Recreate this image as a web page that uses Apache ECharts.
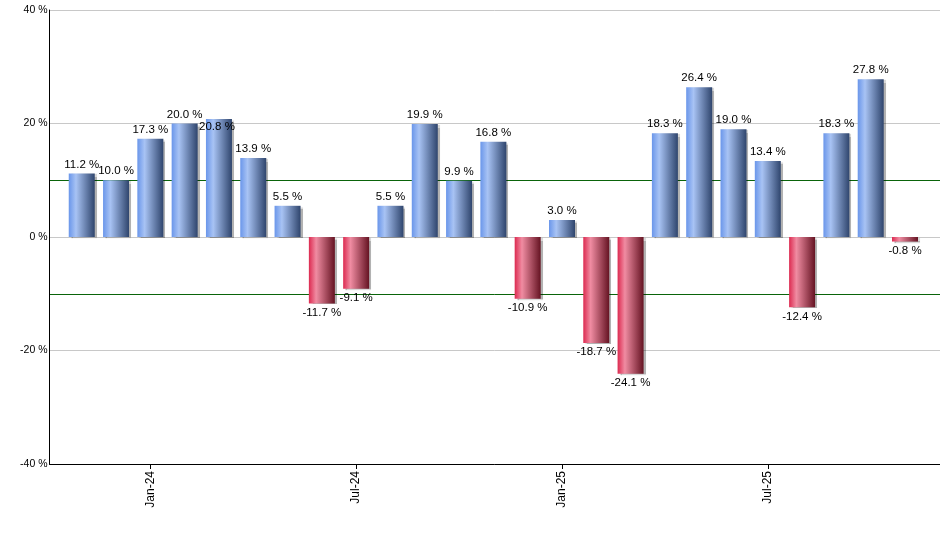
<!DOCTYPE html>
<html>
<head>
<meta charset="utf-8">
<title>Monthly returns</title>
<script src="https://cdn.jsdelivr.net/npm/echarts@6/dist/echarts.min.js"></script>
<style>
  html, body { margin: 0; padding: 0; background: #fff; }
  #chart { width: 940px; height: 550px; }
</style>
</head>
<body>
<div id="chart"></div>
<script>
// months (one bar each)
var months = ['Nov-23', 'Dec-23', 'Jan-24', 'Feb-24', 'Mar-24', 'Apr-24', 'May-24', 'Jun-24',
  'Jul-24', 'Aug-24', 'Sep-24', 'Oct-24', 'Nov-24', 'Dec-24', 'Jan-25', 'Feb-25', 'Mar-25',
  'Apr-25', 'May-25', 'Jun-25', 'Jul-25', 'Aug-25', 'Sep-25', 'Oct-25', 'Nov-25'];
// monthly change in %
var values = [11.2, 10.0, 17.3, 20.0, 20.8, 13.9, 5.5, -11.7, -9.1, 5.5, 19.9, 9.9, 16.8,
  -10.9, 3.0, -18.7, -24.1, 18.3, 26.4, 19.0, 13.4, -12.4, 18.3, 27.8, -0.8];
// months that get a tick label on the x axis
var tickMonths = ['Jan-24', 'Jul-24', 'Jan-25', 'Jul-25'];
// y axis: labelled ticks and the two reference lines
var yTicks = [-40, -20, 0, 20, 40];
var bandLines = [10, -10];

var chart = echarts.init(document.getElementById('chart'));

var font = 'Liberation Sans, Arial, sans-serif';

// 蓝色 / 红色 横向渐变
var blueFill = new echarts.graphic.LinearGradient(0, 0, 1, 0, [
  { offset: 0, color: '#6a96ea' },
  { offset: 0.28, color: '#a8c3f4' },
  { offset: 1, color: '#2f456d' }
]);
var redFill = new echarts.graphic.LinearGradient(0, 0, 1, 0, [
  { offset: 0, color: '#dc2a50' },
  { offset: 0.28, color: '#f08ca2' },
  { offset: 1, color: '#651322' }
]);

var tickIdx = tickMonths.map(function (m) { return months.indexOf(m); });

// split lines every 10 %: gray on labelled ticks, green on the band lines, none otherwise
var yMin = yTicks[0], yMax = yTicks[yTicks.length - 1];
var splitColors = [];
for (var y = yMin; y <= yMax; y += 10) {
  if (bandLines.indexOf(y) >= 0) splitColors.push('#0a640a');
  else if (yTicks.indexOf(y) >= 0) splitColors.push('#c8c8c8');
  else splitColors.push('rgba(0,0,0,0)');
}

var barData = values.map(function (v, i) {
  var item = {
    value: [i, v],
    itemStyle: { color: v >= 0 ? blueFill : redFill },
    label: { position: v >= 0 ? 'top' : 'bottom' }
  };
  // 20.8 % label sits lower in the original (collision with its neighbour)
  if (i === 4) item.label.offset = [-2, 17];
  return item;
});

var option = {
  animation: false,
  backgroundColor: '#fff',
  grid: {
    left: 49.5, right: 0, top: 10, bottom: 86,
    containLabel: false,
    outerBoundsMode: 'none'
  },
  xAxis: {
    type: 'value',
    min: -0.94,
    max: 25.02,
    splitLine: { show: false },
    axisLine: { show: true, onZero: false, lineStyle: { color: '#000', width: 1 } },
    axisTick: { show: true, customValues: tickIdx, length: 5, lineStyle: { color: '#000' } },
    axisLabel: {
      customValues: tickIdx,
      rotate: 90,
      margin: 7,
      color: '#000',
      fontFamily: font,
      fontSize: 12,
      formatter: function (v) { return months[Math.round(v)]; }
    }
  },
  yAxis: {
    type: 'value',
    min: yMin,
    max: yMax,
    interval: 10,
    axisLine: { show: true, onZero: false, lineStyle: { color: '#000', width: 1 } },
    axisTick: { show: false },
    splitLine: { show: true, lineStyle: { color: splitColors, width: 1 } },
    axisLabel: {
      margin: 2,
      color: '#000',
      fontFamily: font,
      fontSize: 10.5,
      formatter: function (v) { return yTicks.indexOf(v) >= 0 ? v + ' %' : ''; }
    }
  },
  series: [
    {
      type: 'bar',
      barWidth: 26,
      data: barData,
      itemStyle: {
        shadowColor: 'rgba(0,0,0,0.3)',
        shadowOffsetX: 2,
        shadowOffsetY: 1,
        shadowBlur: 1
      },
      label: {
        show: true,
        distance: 3,
        color: '#000',
        fontFamily: font,
        fontSize: 11.5,
        formatter: function (p) { return p.value[1].toFixed(1) + ' %'; }
      }
    }
  ]
};

chart.setOption(option);
</script>
</body>
</html>
